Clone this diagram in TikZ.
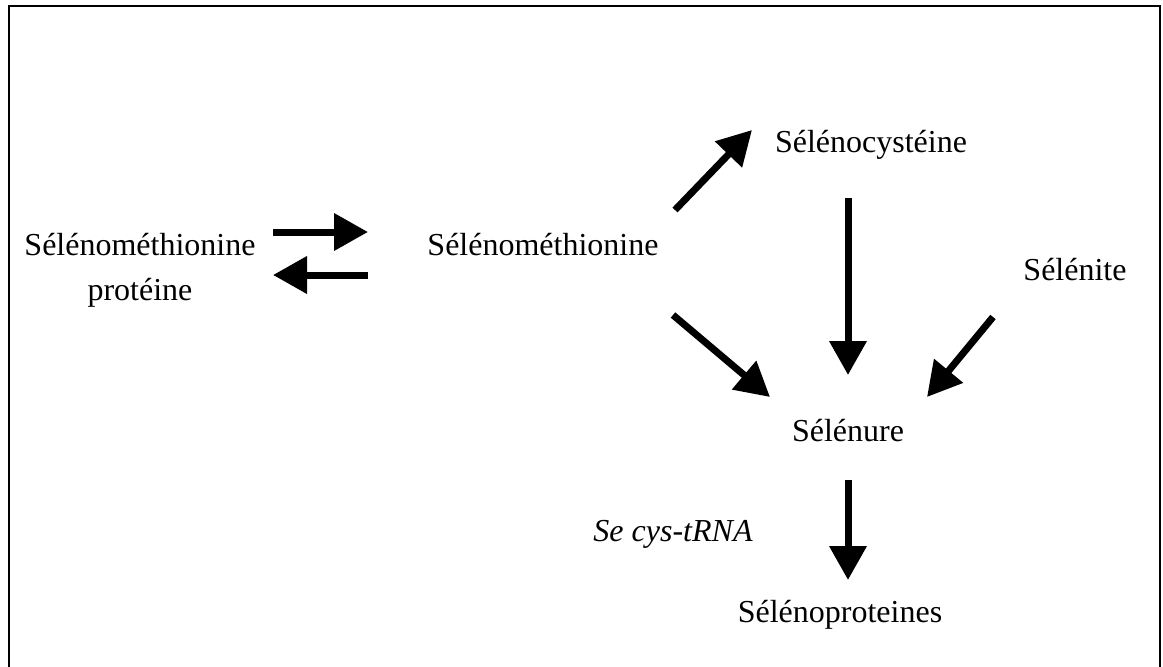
\documentclass[tikz,border=0pt]{standalone}
\usepackage{fontspec}
\setmainfont{Liberation Serif}
\usetikzlibrary{arrows.meta}
\begin{document}
\begin{tikzpicture}[x=1pt,y=-1pt,
  lbl/.style={anchor=base,inner sep=0pt,font=\fontsize{32}{40}\selectfont},
  fat/.style={line width=7pt,-{Triangle[length=34pt,width=36pt]}},
  frame/.style={line width=2pt}]
\useasboundingbox (0,0) rectangle (1163,667);
\draw[frame] (9,672) -- (9,6) -- (1160,6) -- (1160,672);
% labels
\node[lbl] (smp1) at (140,255) {Sélénométhionine};
\node[lbl] (smp2) at (140,300) {protéine};
\node[lbl] (smet) at (543,255) {Sélénométhionine};
\node[lbl] (scys) at (871,152) {Sélénocystéine};
\node[lbl] (snite) at (1075,280) {Sélénite};
\node[lbl] (snure) at (848,441) {Sélénure};
\node[lbl,font=\fontsize{32}{40}\selectfont\itshape] (trna) at (673,541) {Se cys-tRNA};
\node[lbl] (sprot) at (840,622) {Sélénoproteines};
% arrow ends
\coordinate (f1s) at (273,232); \coordinate (f1e) at (368,232);
\coordinate (r1s) at (368,275); \coordinate (r1e) at (273,275);
\coordinate (u1s) at (675,210); \coordinate (u1e) at (752,130);
\coordinate (d1s) at (673,315); \coordinate (d1e) at (770,397);
\coordinate (c1s) at (848,198); \coordinate (c1e) at (848,375);
\coordinate (n1s) at (993,317); \coordinate (n1e) at (927,397);
\coordinate (p1s) at (848,480); \coordinate (p1e) at (848,580);
\draw[fat] (f1s) -- (f1e);
\draw[fat] (r1s) -- (r1e);
\draw[fat] (u1s) -- (u1e);
\draw[fat] (d1s) -- (d1e);
\draw[fat] (c1s) -- (c1e);
\draw[fat] (n1s) -- (n1e);
\draw[fat] (p1s) -- (p1e);
\end{tikzpicture}
\end{document}
